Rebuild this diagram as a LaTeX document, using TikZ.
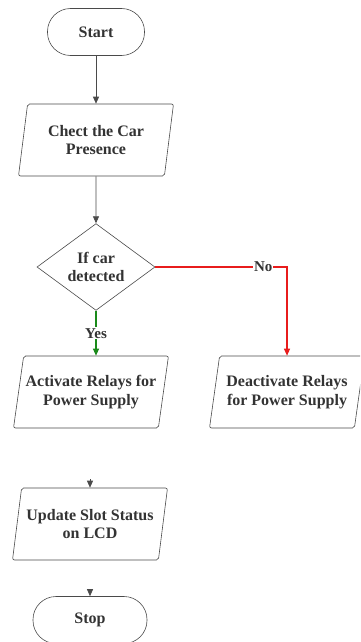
\documentclass[tikz,border=0pt]{standalone}
\usepackage{fontspec}
\setmainfont{Liberation Serif}
\usetikzlibrary{shapes.geometric,arrows.meta}
\definecolor{ink}{HTML}{333333}
\definecolor{edge}{HTML}{4A4A4A}
\definecolor{yesgreen}{HTML}{1A8A1A}
\definecolor{nored}{HTML}{E81C1C}
\tikzset{
  base/.style={draw=edge, line width=0.6pt, text=ink, font=\bfseries\fontsize{16}{18.5}\selectfont, align=center, inner sep=0pt},
  terminal/.style={base, rectangle, rounded corners=23pt, minimum width=97pt, minimum height=47pt},
  io/.style={base, trapezium, trapezium left angle=73, trapezium right angle=107,
             trapezium stretches body, minimum width=155pt, minimum height=72pt, rounded corners=2pt},
  decision/.style={base, diamond, minimum width=118pt, minimum height=81pt},
  flow/.style={draw=edge, line width=0.7pt, -{Triangle[width=6pt,length=7pt]}},
  branch/.style={line width=1.1pt, -{Triangle[width=6pt,length=7pt]}},
  lbl/.style={fill=white, text=ink, font=\bfseries\fontsize{15}{17}\selectfont, inner sep=1pt}
}
\begin{document}
\begin{tikzpicture}[x=1pt, y=-1pt]
  \useasboundingbox (0,0) rectangle (360,642);
  \clip (0,0) rectangle (360,642);
  \fill[white] (0,0) rectangle (360,642);

  % nodes
  \node[terminal] (start) at (96,32) {Start};
  \node[io] (check) at (96,140) {Chect the Car\\Presence};
  \node[decision] (cond) at (96,267) {If car\\detected};
  \node[io] (act) at (91,392) {Activate Relays for\\Power Supply};
  \node[io] (deact) at (287,392) {Deactivate Relays\\for Power Supply};
  \node[io] (update) at (90,524) {Update Slot Status\\on LCD};
  \node[terminal, minimum width=114pt] (stop) at (90,620) {Stop};

  % free ends of the tip-only connectors
  \coordinate (upd-in) at (90,479);
  \coordinate (stop-in) at (90,589);

  % connectors
  \draw[flow] (start) -- (check);
  \draw[flow] (check) -- (cond);
  \begin{scope}
    \color{yesgreen}
    \draw[branch, draw=yesgreen] (cond.south) -- (cond.south |- act.north);
  \end{scope}
  \begin{scope}
    \color{nored}
    \draw[branch, draw=nored] (cond.east) -| (deact.north);
  \end{scope}
  \draw[flow] (upd-in) -- (upd-in |- update.north);
  \draw[flow] (stop-in) -- (stop-in |- stop.north);

  % branch labels, set over the branch lines
  \path (cond.south) -- node[lbl, pos=0.5] (yes) {Yes} (cond.south |- act.north);
  \path (cond.east) -| node[lbl, pos=0.41] (no) {No} (deact.north);
\end{tikzpicture}
\end{document}
